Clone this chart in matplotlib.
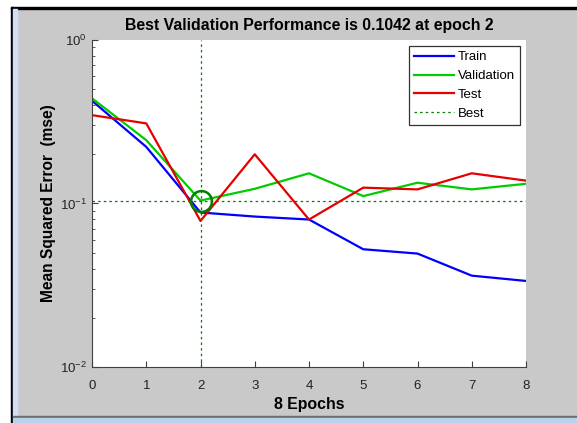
# Training performance plot (MATLAB plotperform style)
import numpy as np
import matplotlib.pyplot as plt
from matplotlib.patches import Rectangle

# mse per epoch
epochs = [0, 1, 2, 3, 4, 5, 6, 7, 8]
train_mse = [0.425, 0.222, 0.0881, 0.0832, 0.0798, 0.0525, 0.0494, 0.0362, 0.0336]
val_mse = [0.44, 0.244, 0.1042, 0.123, 0.153, 0.111, 0.134, 0.122, 0.132]
test_mse = [0.347, 0.309, 0.0782, 0.200, 0.0798, 0.125, 0.122, 0.153, 0.138]
best_epoch = 2
best_perf = 0.1042

plt.rcParams['font.family'] = ['Liberation Sans', 'DejaVu Sans']

fig = plt.figure(figsize=(5.77, 4.23), dpi=100)
fig.patch.set_facecolor("#c9c9c9")

# window frame bits around the figure
W, H = 577, 423
def px_rect(x0, y0, x1, y1, color):
    fig.patches.append(Rectangle((x0 / W, 1 - y1 / H), (x1 - x0) / W, (y1 - y0) / H,
                                 transform=fig.transFigure, color=color, zorder=-5))
px_rect(0, 0, 577, 8, "white")
px_rect(0, 0, 11, 423, "white")
px_rect(11, 7, 577, 9, "black")
px_rect(11, 7, 13, 423, "black")
px_rect(13, 9, 17, 417, "#cfe0f2")
px_rect(13, 416, 577, 418, "#6d6d6d")
px_rect(13, 418, 577, 423, "#b9d3ee")

ax = fig.add_axes([92 / W, 1 - 367 / H, 434 / W, 327 / H])
ax.set_facecolor("white")

ax.semilogy(epochs, train_mse, color=(0, 0, 1), lw=1.6, label="Train")
ax.semilogy(epochs, val_mse, color=(0, 0.8, 0), lw=1.6, label="Validation")
ax.semilogy(epochs, test_mse, color=(0.9, 0, 0), lw=1.6, label="Test")
ax.axhline(best_perf, color=(0, 0.5, 0), ls=(0, (2, 2.5)), lw=0.9, label="Best")
ax.axvline(best_epoch, color=(0, 0.5, 0), ls=(0, (2, 2.5)), lw=0.9)
ax.plot([best_epoch], [best_perf], "o", ms=15, mfc="none", mec=(0, 0.5, 0), mew=1.8)

ax.set_xlim(0, 8)
ax.set_ylim(1e-2, 1e0)
ax.set_xticks(epochs)

for s in ["top", "right"]:
    ax.spines[s].set_visible(False)
for s in ["left", "bottom"]:
    ax.spines[s].set_color("#404040")
ax.tick_params(axis="both", which="both", direction="in", colors="#404040",
               labelcolor="#222222", labelsize=9.5)
ax.tick_params(which="major", length=4)
ax.tick_params(which="minor", length=2.5)
ax.tick_params(axis="x", which="major", pad=9)

ax.set_title("Best Validation Performance is 0.1042 at epoch 2",
             fontsize=11.4, fontweight="bold", pad=7)
ax.set_xlabel("8 Epochs", fontsize=11.4, fontweight="bold", labelpad=4)
ax.set_ylabel("Mean Squared Error  (mse)", fontsize=11.2, fontweight="bold", labelpad=3)

leg = ax.legend(loc="upper right", fontsize=9.5, frameon=True, fancybox=False,
                edgecolor="black", handlelength=3.0, handletextpad=0.3,
                borderpad=0.4, labelspacing=0.5, borderaxespad=0.45)
leg.get_frame().set_linewidth(0.9)

plt.savefig("out.png", dpi=100)
